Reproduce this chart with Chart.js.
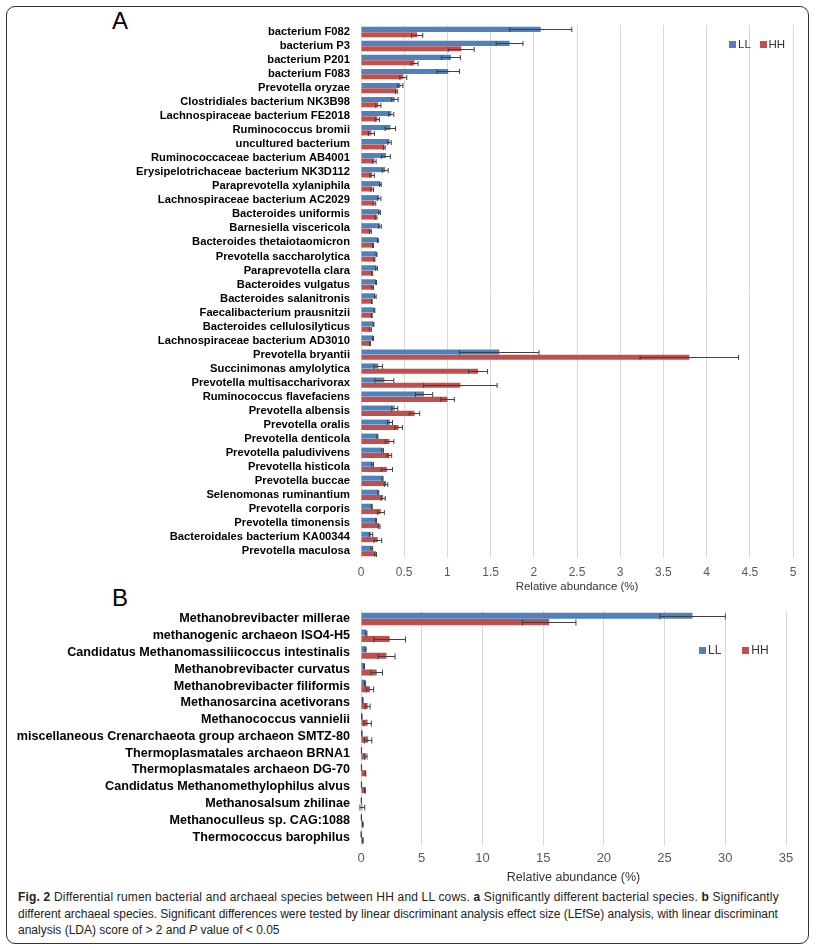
<!DOCTYPE html>
<html>
<head>
<meta charset="utf-8">
<script src="https://cdn.jsdelivr.net/npm/chart.js@4.4.1/dist/chart.umd.min.js"></script>
<style>
	body { margin: 0; background: #fff; }
	#page { position: relative; width: 816px; height: 950px; font-family: "Liberation Sans", Arial, sans-serif; }
	#frame { position: absolute; left: 6px; top: 6px; width: 801px; height: 936px; border: 1.5px solid #333; border-radius: 9px; }
	canvas { position: absolute; left: 0; }
	.panel { position: absolute; font-size: 24px; color: #000; }
	.legend { position: absolute; font-size: 11.5px; color: #333; white-space: nowrap; }
	.legend span.sw { display: inline-block; width: 7px; height: 7px; margin-right: 2px; vertical-align: 0px; }
	#legendB { font-size: 12px; }
	#caption { position: absolute; left: 18px; top: 889px; width: 790px; font-size: 12px; line-height: 16.5px; color: #222; white-space: nowrap; }
</style>
</head>
<body>
<div id="page">
	<div id="frame"></div>
	<div class="panel" style="left:112px; top:7px;">A</div>
	<div class="panel" style="left:112px; top:584px;">B</div>
	<canvas id="chartA" width="808" height="584" style="top:14px;"></canvas>
	<canvas id="chartB" width="808" height="289" style="top:600px;"></canvas>
	<div class="legend" id="legendA" style="left:729px; top:38px;"><span class="sw" style="background:#4f81bd"></span>LL <span class="sw" style="background:#c0504d; margin-left:6px"></span>HH</div>
	<div class="legend" id="legendB" style="left:699px; top:643px;"><span class="sw" style="background:#4f81bd"></span>LL <span class="sw" style="background:#c0504d; margin-left:18px"></span>HH</div>
	<div id="caption"><span style="letter-spacing:0.18px"><b>Fig. 2</b> Differential rumen bacterial and archaeal species between HH and LL cows. <b>a</b> Significantly different bacterial species. <b>b</b> Significantly</span><br><span style="letter-spacing:-0.03px">different archaeal species. Significant differences were tested by linear discriminant analysis effect size (LEfSe) analysis, with linear discriminant</span><br>analysis (LDA) score of &gt; 2 and <i>P</i> value of &lt; 0.05</div>
</div>
<script>
const bacteriaLabels = [
	"bacterium F082", "bacterium P3", "bacterium P201", "bacterium F083",
	"Prevotella oryzae", "Clostridiales bacterium NK3B98", "Lachnospiraceae bacterium FE2018",
	"Ruminococcus bromii", "uncultured bacterium", "Ruminococcaceae bacterium AB4001",
	"Erysipelotrichaceae bacterium NK3D112", "Paraprevotella xylaniphila",
	"Lachnospiraceae bacterium AC2029", "Bacteroides uniformis", "Barnesiella viscericola",
	"Bacteroides thetaiotaomicron", "Prevotella saccharolytica", "Paraprevotella clara",
	"Bacteroides vulgatus", "Bacteroides salanitronis", "Faecalibacterium prausnitzii",
	"Bacteroides cellulosilyticus", "Lachnospiraceae bacterium AD3010", "Prevotella bryantii",
	"Succinimonas amylolytica", "Prevotella multisaccharivorax", "Ruminococcus flavefaciens",
	"Prevotella albensis", "Prevotella oralis", "Prevotella denticola", "Prevotella paludivivens",
	"Prevotella histicola", "Prevotella buccae", "Selenomonas ruminantium", "Prevotella corporis",
	"Prevotella timonensis", "Bacteroidales bacterium KA00344", "Prevotella maculosa"
];
const bacteriaLL = [2.08, 1.72, 1.04, 1.01, 0.455, 0.39, 0.35, 0.34, 0.33, 0.29, 0.28, 0.225, 0.21, 0.215, 0.22, 0.195, 0.18, 0.18, 0.175, 0.165, 0.155, 0.145, 0.14, 1.60, 0.20, 0.27, 0.73, 0.39, 0.335, 0.19, 0.25, 0.135, 0.25, 0.20, 0.125, 0.175, 0.115, 0.125];
const bacteriaLLErr = [0.36, 0.155, 0.11, 0.13, 0.03, 0.04, 0.03, 0.06, 0.02, 0.05, 0.035, 0.01, 0.02, 0.01, 0.015, 0.005, 0.005, 0.01, 0.005, 0.01, 0.005, 0.005, 0.005, 0.46, 0.05, 0.11, 0.1, 0.035, 0.03, 0.005, 0.01, 0.01, 0.005, 0.005, 0.005, 0.005, 0.02, 0.01];
const bacteriaHH = [0.65, 1.16, 0.62, 0.49, 0.41, 0.2, 0.19, 0.12, 0.27, 0.155, 0.13, 0.13, 0.155, 0.175, 0.11, 0.14, 0.155, 0.13, 0.135, 0.125, 0.125, 0.11, 0.105, 3.80, 1.355, 1.15, 1.0, 0.62, 0.435, 0.33, 0.33, 0.3, 0.29, 0.255, 0.23, 0.21, 0.195, 0.17];
const bacteriaHHErr = [0.065, 0.15, 0.04, 0.04, 0.01, 0.03, 0.025, 0.035, 0.01, 0.02, 0.025, 0.015, 0.015, 0.01, 0.01, 0.005, 0.005, 0.005, 0.01, 0.005, 0.005, 0.01, 0.005, 0.57, 0.11, 0.425, 0.08, 0.06, 0.045, 0.05, 0.025, 0.065, 0.02, 0.025, 0.04, 0.01, 0.045, 0.01];

const archaeaLabels = [
	"Methanobrevibacter millerae", "methanogenic archaeon ISO4-H5",
	"Candidatus Methanomassiliicoccus intestinalis", "Methanobrevibacter curvatus",
	"Methanobrevibacter filiformis", "Methanosarcina acetivorans", "Methanococcus vannielii",
	"miscellaneous Crenarchaeota group archaeon SMTZ-80", "Thermoplasmatales archaeon BRNA1",
	"Thermoplasmatales archaeon DG-70", "Candidatus Methanomethylophilus alvus",
	"Methanosalsum zhilinae", "Methanoculleus sp. CAG:1088", "Thermococcus barophilus"
];
const archaeaLL = [27.3, 0.44, 0.37, 0.26, 0.33, 0.15, 0.07, 0.07, 0.04, 0.04, 0.04, 0.03, 0.03, 0.02];
const archaeaLLErr = [2.7, 0.05, 0.05, 0.03, 0.05, 0.02, 0.01, 0.01, 0.01, 0.01, 0.01, 0.01, 0.01, 0.01];
const archaeaHH = [15.5, 2.36, 2.1, 1.29, 0.74, 0.55, 0.55, 0.59, 0.4, 0.37, 0.33, 0.11, 0.15, 0.15];
const archaeaHHErr = [2.2, 1.3, 0.7, 0.48, 0.3, 0.2, 0.3, 0.3, 0.1, 0.03, 0.03, 0.2, 0.03, 0.03];

const blue = "#4f81bd";
const red = "#c0504d";

// error bars drawn from each dataset's "errors" array
const errorBars = {
	id: "errorBars",
	afterDatasetsDraw(chart, args, opts) {
		const ctx = chart.ctx;
		const xScale = chart.scales.x;
		ctx.save();
		ctx.strokeStyle = "#404040";
		ctx.lineWidth = 1;
		chart.data.datasets.forEach((ds, i) => {
			const meta = chart.getDatasetMeta(i);
			meta.data.forEach((bar, j) => {
				const err = ds.errors[j];
				if (!err) return;
				const x0 = xScale.getPixelForValue(ds.data[j] - err);
				const x1 = xScale.getPixelForValue(ds.data[j] + err);
				const y = Math.round(bar.y) + 0.5;
				const c = opts.cap;
				ctx.beginPath();
				ctx.moveTo(x0, y);
				ctx.lineTo(x1, y);
				ctx.moveTo(x1, y - c);
				ctx.lineTo(x1, y + c);
				ctx.moveTo(x0, y - c);
				ctx.lineTo(x0, y + c);
				ctx.stroke();
			});
		});
		ctx.restore();
	},
};

const buildChart = (canvas, cfg) => {
	return new Chart(canvas, {
		type: "bar",
		data: {
			labels: cfg.labels,
			datasets: [
				{ label: "LL", data: cfg.ll, errors: cfg.llErr, backgroundColor: blue },
				{ label: "HH", data: cfg.hh, errors: cfg.hhErr, backgroundColor: red },
			],
		},
		options: {
			indexAxis: "y",
			responsive: false,
			animation: false,
			devicePixelRatio: 1,
			categoryPercentage: 0.76,
			barPercentage: 0.95,
			layout: { padding: cfg.padding },
			plugins: {
				legend: { display: false },
				tooltip: { enabled: false },
				errorBars: { cap: cfg.cap },
			},
			scales: {
				x: {
					min: 0,
					max: cfg.max,
					ticks: {
						stepSize: cfg.step,
						color: "#595959",
						font: cfg.tickFont,
						padding: cfg.tickPad,
						callback: (value) => String(value),
					},
					grid: { color: "#d9d9d9", drawTicks: false },
					border: { display: false },
					title: { display: true, text: "Relative abundance (%)", color: "#333", font: cfg.titleFont },
					afterFit: (scale) => { scale.height = cfg.xHeight; },
				},
				y: {
					ticks: { color: "#000", font: cfg.labelFont, padding: 3, autoSkip: false },
					grid: { display: false },
					border: { display: false },
					afterFit: (scale) => { scale.width = 361; },
				},
			},
		},
		plugins: [errorBars],
	});
};

buildChart(document.getElementById("chartA"), {
	labels: bacteriaLabels,
	ll: bacteriaLL, llErr: bacteriaLLErr,
	hh: bacteriaHH, hhErr: bacteriaHHErr,
	max: 5, step: 0.5, cap: 2.5,
	padding: { top: 11, right: 15, left: 0, bottom: 0 },
	xHeight: 40, tickPad: 7,
	tickFont: { family: "Liberation Sans", size: 12 },
	titleFont: { family: "Liberation Sans", size: 11.5 },
	labelFont: { family: "Liberation Sans", size: 11.2, weight: "bold" },
});

buildChart(document.getElementById("chartB"), {
	labels: archaeaLabels,
	ll: archaeaLL, llErr: archaeaLLErr,
	hh: archaeaHH, hhErr: archaeaHHErr,
	max: 35, step: 5, cap: 3,
	padding: { top: 8.5, right: 22, left: 0, bottom: 0 },
	xHeight: 43.5, tickPad: 5.5,
	tickFont: { family: "Liberation Sans", size: 13 },
	titleFont: { family: "Liberation Sans", size: 12.5 },
	labelFont: { family: "Liberation Sans", size: 12.6, weight: "bold" },
});
</script>
</body>
</html>
